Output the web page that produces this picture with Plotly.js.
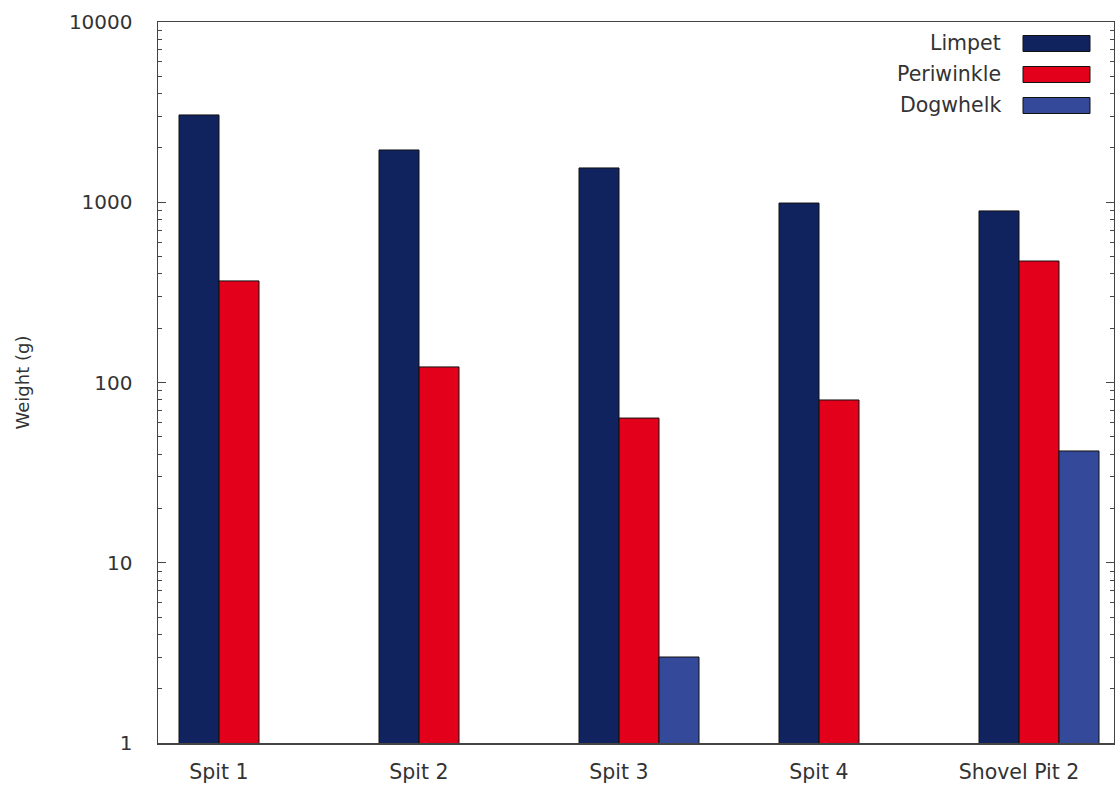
<!DOCTYPE html>
<html>
<head>
<meta charset="utf-8">
<script src="https://cdn.plot.ly/plotly-3.0.1.min.js"></script>
<style>html,body{margin:0;padding:0;background:#fff;}#chart{width:1115px;height:787px;}</style>
</head>
<body>
<div id="chart"></div>
<script>
// ---- data ----
const categories = ["Spit 1", "Spit 2", "Spit 3", "Spit 4", "Shovel Pit 2"];
const seriesNames = ["Limpet", "Periwinkle", "Dogwhelk"];
const limpet     = [3050, 1950, 1550, 990, 895];
const periwinkle = [366, 122, 63.5, 80, 472];
const dogwhelk   = [null, null, 3.0, null, 41.7];
const seriesValues = [limpet, periwinkle, dogwhelk];
const seriesColors = ["#11235f", "#e2001a", "#34499a"];
const yTickVals = [1, 10, 100, 1000, 10000];
const yTickText = ["1", "10", "100", "1000", "10000"];

// ---- layout constants ----
const W = 1115, H = 787;
const M = {l: 158, r: 1, t: 22, b: 44};
const PW = W - M.l - M.r, PH = H - M.t - M.b;
const px2x = p => (p - M.l) / PW;
const px2y = p => 1 - (p - M.t) / PH;
const FONT = "DejaVu Sans, sans-serif";
const TXT = "#333333";
const LBL = 20.5;

const barWidth = 0.2;
const traces = seriesNames.map((name, i) => ({
  type: "bar",
  name: name,
  x: categories,
  y: seriesValues[i],
  width: barWidth,
  offset: -barWidth + i * barWidth,
  marker: {color: seriesColors[i], line: {color: "#111111", width: 1}},
  showlegend: false,
  hoverinfo: "x+y+name"
}));

// manual legend (text left of swatch, as in the reference)
const shapes = [];
const annotations = [];
seriesNames.forEach((name, i) => {
  const yc = 43.5 + i * 31;
  shapes.push({
    type: "rect", xref: "paper", yref: "paper",
    x0: px2x(1023), x1: px2x(1090),
    y0: px2y(yc - 8), y1: px2y(yc + 8),
    fillcolor: seriesColors[i],
    line: {color: "#111111", width: 1}
  });
  annotations.push({
    xref: "paper", yref: "paper",
    x: px2x(1003), y: px2y(yc),
    xanchor: "right", yanchor: "middle",
    text: name, showarrow: false,
    font: {family: FONT, size: LBL, color: TXT}
  });
});

const layout = {
  width: W, height: H,
  margin: M,
  paper_bgcolor: "#ffffff",
  plot_bgcolor: "#ffffff",
  barmode: "overlay",
  font: {family: FONT, size: LBL, color: TXT},
  xaxis: {
    type: "category",
    range: [-0.305, 4.475],
    showline: true, linecolor: "#444444", linewidth: 1.5,
    mirror: true,
    ticks: "",
    showgrid: false, zeroline: false,
    tickfont: {family: FONT, size: LBL, color: TXT},
    ticklabelstandoff: 10
  },
  yaxis: {
    type: "log",
    range: [0, 4],
    tickvals: yTickVals, ticktext: yTickText,
    showline: true, linecolor: "#444444", linewidth: 1.5,
    mirror: "ticks",
    ticks: "inside", ticklen: 8, tickcolor: "#444444", tickwidth: 1,
    minor: {ticks: "inside", ticklen: 4, tickcolor: "#444444", dtick: "D1", showgrid: false},
    showgrid: false, zeroline: false,
    tickfont: {family: FONT, size: 20, color: TXT},
    ticklabelstandoff: 20,
    title: {text: "Weight (g)", font: {family: FONT, size: 18, color: TXT}, standoff: 34}
  },
  shapes: shapes,
  annotations: annotations
};

Plotly.newPlot("chart", traces, layout, {displayModeBar: false, staticPlot: true});
</script>
</body>
</html>
